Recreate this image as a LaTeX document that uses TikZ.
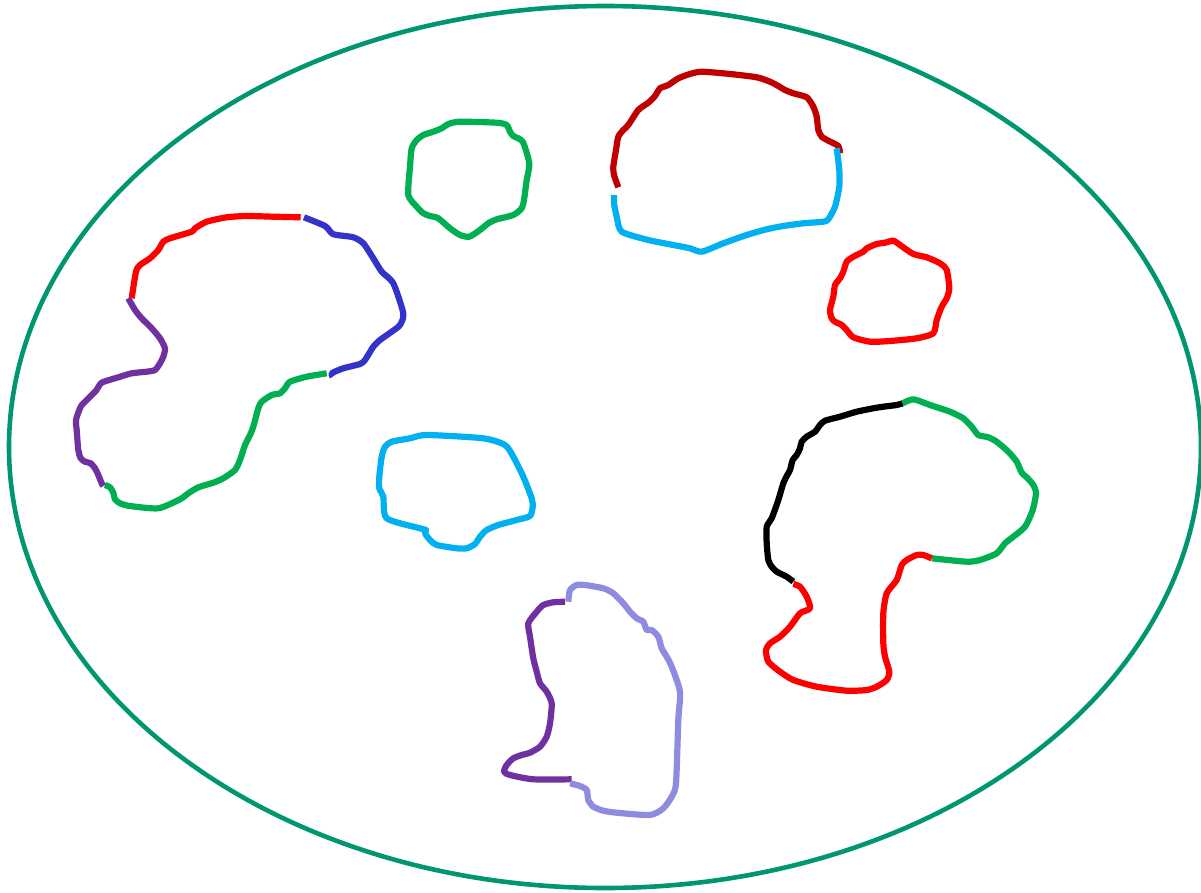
\documentclass[tikz,border=0pt]{standalone}
\definecolor{teal}{RGB}{0,150,112}
\definecolor{cred}{RGB}{255,0,0}
\definecolor{cdred}{RGB}{192,0,0}
\definecolor{cblue}{RGB}{51,51,204}
\definecolor{cgreen}{RGB}{0,176,80}
\definecolor{cpurple}{RGB}{112,48,160}
\definecolor{clblue}{RGB}{0,176,240}
\definecolor{clpurple}{RGB}{142,140,224}
\begin{document}
\begin{tikzpicture}[x=1pt,y=-1pt,
  stroke/.style={line width=6.2pt,line join=round,line cap=butt},
  closedstroke/.style={line width=6.2pt,line join=round}]
\useasboundingbox (0,0) rectangle (1201,893);
\draw[teal,line width=4.6pt] (605,447) ellipse [x radius=596, y radius=441];
% curve 1
\draw[stroke,cred] plot[smooth,tension=0.4] coordinates {(300.7,217.3) (273.3,216.7) (246.7,216) (226.7,217.3) (206.7,221.7) (195,228.3) (191.7,231.7) (170,238.3) (163.3,241.7) (158.3,250) (150,258.3) (140,265) (136,271.7) (131.7,298.3)};
\draw[stroke,cblue] plot[smooth,tension=0.4] coordinates {(304,217.3) (325,226) (331.7,233.3) (336.7,235) (353.3,237.3) (363.3,243.3) (373.3,258.3) (381.7,271.7) (393.3,283.3) (403.3,313.3) (400,325) (391.7,331.7) (380,340) (373.3,346.7) (365,360) (360,364) (343.3,368.3) (331.7,373.3) (332.7,376.7)};
\draw[stroke,cgreen] plot[smooth,tension=0.4] coordinates {(326.7,373.3) (306.7,376.7) (290,381.7) (285,388.3) (280,393.3) (271.7,395) (261.7,401.7) (258.3,408.3) (253.3,426.7) (250,435) (245,445) (240,460) (235,470) (223.3,478.3) (213.3,482.7) (198.3,487.3) (188.3,493.3) (180,499.3) (158.3,508.3) (130,506) (120,503.3) (115,499.3) (113.3,492.7) (110,487.3) (105,485)};
\draw[stroke,cpurple] plot[smooth,tension=0.4] coordinates {(128.3,298.3) (135,310) (141.7,318.3) (151.7,328.3) (160,338.3) (165,348.3) (163.3,356.7) (160,363.3) (155,370) (146.7,371.7) (131.7,373.3) (118.3,377.3) (101.7,382.7) (96,390.7) (86.7,400) (80.7,406.7) (76,420) (76.7,430) (78.3,450) (80.7,458.3) (85,461.7) (90.7,463.3) (95,468.3) (98.3,475) (101.7,483.3) (103.3,486)};
% curve 2
\draw[closedstroke,cgreen] plot[smooth cycle,tension=0.4] coordinates {(460,121.7) (496.7,122.7) (506.7,125) (510,131.7) (513.3,136) (522.7,141.7) (529.3,163.3) (526.7,180) (524,200) (521.7,208.3) (513.3,215) (496.7,219.3) (488.3,223.3) (480,230) (469.3,236.7) (460,235) (450,228.3) (438.3,218.3) (430,216) (423.3,213.3) (416.7,206.7) (408.3,195) (410,166.7) (411.7,148.3) (416.7,140) (423.3,135) (433.3,131.7) (441.7,128.3) (448.3,124)};
% curve 3
\draw[stroke,cdred] plot[smooth,tension=0.4] coordinates {(618.3,187.3) (614,175) (613.3,166.7) (616,150) (618.3,136.7) (623.3,130) (628.3,125) (638.3,110) (648.3,102.7) (655,96) (660,88.3) (668.3,85) (678.3,78.3) (690,74) (701.7,71.7) (730,74) (756.7,77.3) (770,81.7) (778.3,86) (785,90) (793.3,93.3) (806.7,97.3) (813.3,106.7) (816.7,116.7) (818.3,130) (821.7,136.7) (828.3,140.7) (838.3,146) (840,153.3)};
\draw[stroke,clblue] plot[smooth,tension=0.4] coordinates {(836.7,148.3) (839.3,170) (839.3,186.7) (835,206.7) (828.3,219.3) (823.3,221.7) (803.3,223.3) (783.3,226) (766.7,229.3) (746.7,235) (723.3,243.3) (701.7,251.7) (690,248.3) (673.3,245) (648.3,240) (621.7,231.7) (616.7,216.7) (614,203.3) (614,195)};
% curve 4
\draw[closedstroke,cred] plot[smooth cycle,tension=0.4] coordinates {(893.3,240.7) (900,245) (913.3,254) (926.7,257.3) (940,263.3) (946.7,270) (949.3,288.3) (946.7,298.3) (941.7,306.7) (936.7,320) (933.3,333.3) (916.7,338.3) (890,341) (870,341.7) (853.3,337.3) (846.7,330) (841.7,325) (835,321.7) (831.7,318.3) (830,310) (833.3,296.7) (835,285) (840,278.3) (843.3,271.7) (846.7,261.7) (853.3,256.7) (863.3,251.7) (866.7,248.3) (876.7,244) (885,242.7)};
% curve 5
\draw[closedstroke,clblue] plot[smooth cycle,tension=0.4] coordinates {(426.7,435) (483.3,438.3) (505,445) (513.3,456.7) (523.3,476.7) (531.7,498.3) (532.7,506.7) (530,516) (516.7,520) (498.3,525) (486.7,530) (480,536.7) (475,544) (466.7,548.3) (456.7,548.3) (436.7,545) (430,540) (425,533.3) (426,530) (420,528.3) (386.7,518.3) (383.3,496.7) (379.3,488.3) (379.3,476.7) (381.7,456.7) (385,446.7) (391.7,441.7) (410,438.3)};
% curve 6
\draw[stroke,black] plot[smooth,tension=0.4] coordinates {(902.7,403.3) (896.7,405) (883.3,406.7) (873.3,408.3) (856.7,411.7) (840,416.7) (825,420.7) (820,425) (815,431.7) (806.7,436.7) (801.7,441.7) (800,448.3) (796.7,455) (792.7,460) (790,470) (787.3,475) (783.3,483.3) (778.3,500) (771.7,518.3) (766.7,526.7) (766.7,543.3) (768.3,560) (771.7,566.7) (776.7,571.7) (786.7,576.7) (793.3,581.7)};
\draw[stroke,cgreen] plot[smooth,tension=0.4] coordinates {(902.7,403.3) (913.3,399.3) (930,405) (950,411.7) (963.3,418.3) (971.7,426.7) (978.3,435) (988.3,437.3) (996.7,441.7) (1008.3,451.7) (1016.7,461.7) (1021.7,472.7) (1026.7,477.3) (1033.3,485) (1036,493.3) (1032.7,510) (1025,526.7) (1013.3,536.7) (1005,543.3) (996.7,553.3) (980,560) (966.7,561.7) (931.7,558.3)};
\draw[stroke,cred] plot[smooth,tension=0.4] coordinates {(931.7,558.3) (923.3,555) (916.7,555) (906.7,560) (901.7,565) (896.7,580) (886.7,593.3) (883.3,613.3) (883.3,643.3) (885,656.7) (889.3,671.7) (886.7,680) (876.7,686.7) (866.7,690) (846.7,690.7) (816.7,686.7) (793.3,680) (780,671.7) (768.3,661.7) (766,650) (770,643.3) (780,636.7) (790,626.7) (800,613.3) (810,608.3) (806.7,596.7) (800,586.7) (793.3,584)};
% curve 7
\draw[stroke,cpurple] plot[smooth,tension=0.4] coordinates {(565,601.7) (553.3,602.3) (543.3,605) (536.7,611.7) (528.3,623.3) (530,636.7) (533.3,658.3) (536.7,671.7) (540,683.3) (546.7,691.7) (551.7,703.3) (550,723.3) (546.7,736.7) (540,746.7) (530,752.7) (521.7,755) (513.3,758.3) (506.7,765) (504,771.7) (510,775) (533.3,779.3) (571.7,779.3)};
\draw[stroke,clpurple] plot[smooth,tension=0.4] coordinates {(568.3,601.7) (570,590) (576.7,585) (585,585) (603.3,588.3) (613.3,593.3) (623.3,603.3) (630,611.7) (636.7,618.3) (643.3,621.7) (646.7,630) (651.7,630) (658.3,636.7) (661.7,648.3) (666.7,656.7) (671.7,666.7) (680,691.7) (678.3,720) (676,783.3) (671.7,796.7) (663.3,808.3) (650,815) (616.7,812.7) (603.3,810.7) (593.3,806.7) (588.3,800) (586.7,790) (580,786) (570,783.3)};
\end{tikzpicture}
\end{document}
